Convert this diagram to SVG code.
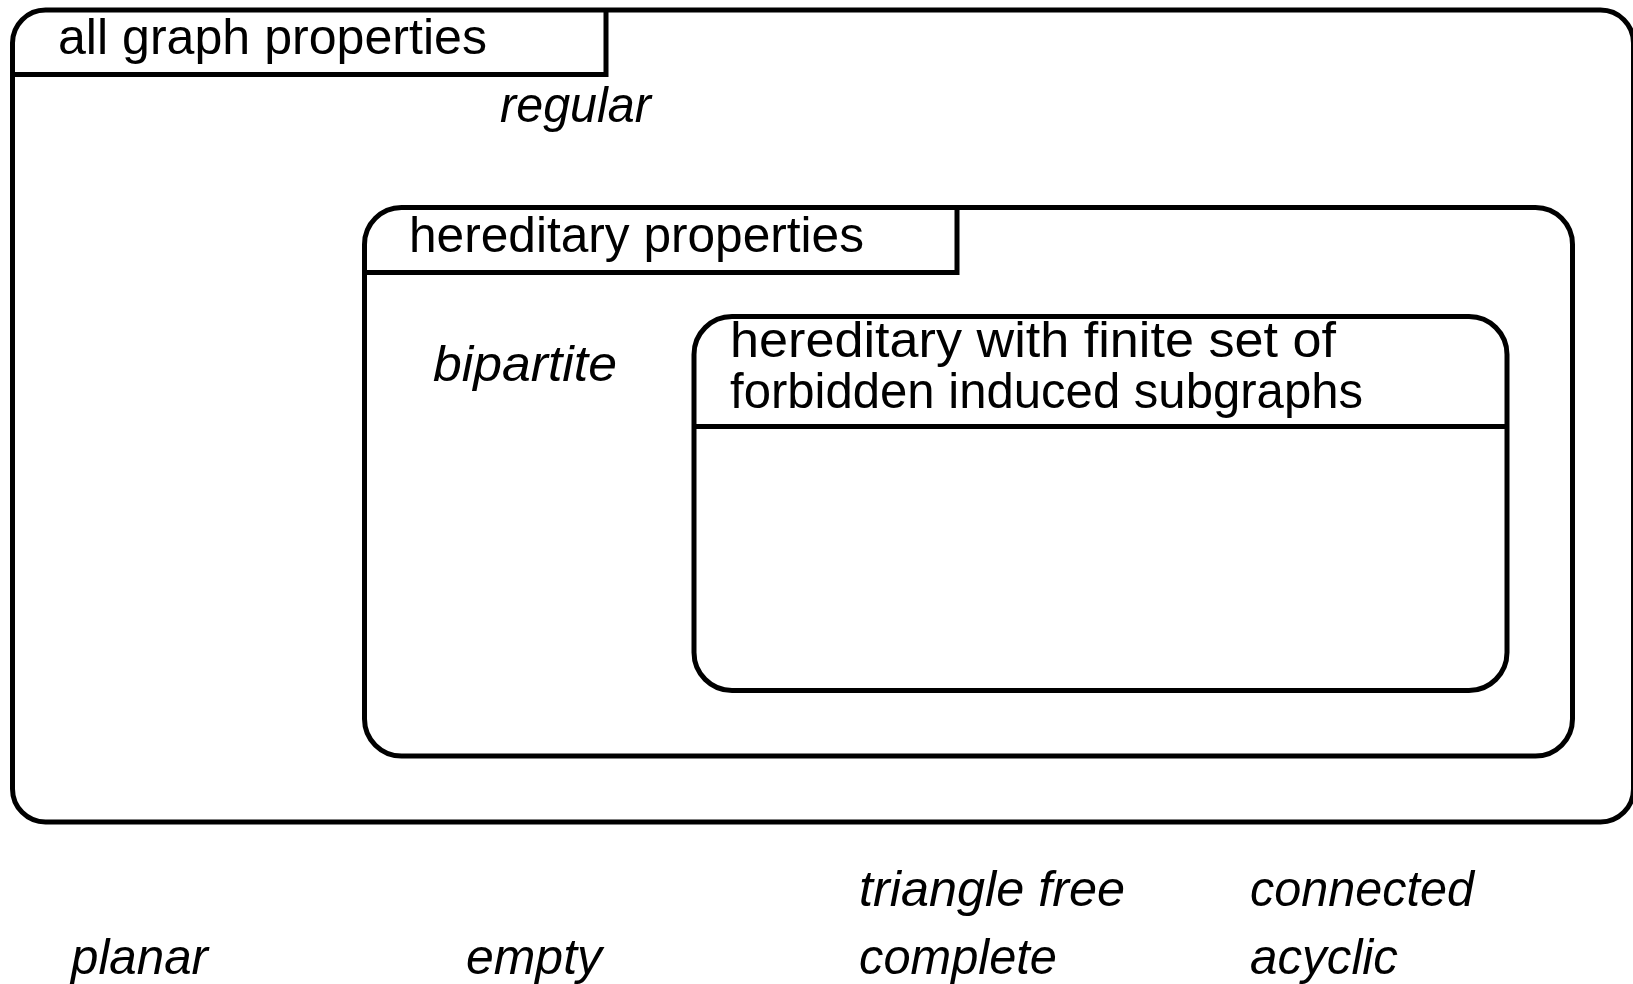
<svg xmlns="http://www.w3.org/2000/svg" width="1633" height="984" viewBox="0 0 1633 984">
  <style>
    .frame { fill: none; stroke: #000; stroke-width: 5; stroke-linejoin: miter; }
    .title { font-family: "Liberation Sans", Arial, sans-serif; font-size: 50px; fill: #000; }
    .prop { font-family: "Liberation Sans", Arial, sans-serif; font-style: italic; font-size: 50px; fill: #000; }
  </style>
  <rect width="1633" height="984" fill="#fff"/>

  <!-- outermost class: all graph properties -->
  <g id="all-graph-properties">
    <rect class="frame" x="12.5" y="10" width="1621" height="812" rx="33" ry="33"/>
    <path class="frame" d="M12.5,74.5 H606 V10"/>
    <text class="title" x="58" y="54" textLength="429" lengthAdjust="spacingAndGlyphs">all graph properties</text>
  </g>

  <!-- hereditary properties -->
  <g id="hereditary-properties">
    <rect class="frame" x="364.5" y="207.5" width="1208" height="548.5" rx="37" ry="37"/>
    <path class="frame" d="M364.5,272.5 H957 V207.5"/>
    <text class="title" x="409" y="252" textLength="455" lengthAdjust="spacingAndGlyphs">hereditary properties</text>
  </g>

  <!-- hereditary with a finite set of forbidden induced subgraphs -->
  <g id="finite-forbidden">
    <rect class="frame" x="694" y="316.5" width="813" height="374" rx="38" ry="38"/>
    <line class="frame" x1="694" y1="426.5" x2="1507" y2="426.5"/>
    <text class="title" x="730" y="357" textLength="606" lengthAdjust="spacingAndGlyphs">hereditary with finite set of</text>
    <text class="title" x="730" y="408" textLength="633" lengthAdjust="spacingAndGlyphs">forbidden induced subgraphs</text>
  </g>

  <!-- example properties -->
  <g id="regular"><text class="prop" x="500" y="122" textLength="151" lengthAdjust="spacingAndGlyphs">regular</text></g>
  <g id="bipartite"><text class="prop" x="433" y="381" textLength="184" lengthAdjust="spacingAndGlyphs">bipartite</text></g>
  <g id="triangle-free"><text class="prop" x="859" y="906" textLength="266" lengthAdjust="spacingAndGlyphs">triangle free</text></g>
  <g id="connected"><text class="prop" x="1250" y="906" textLength="224" lengthAdjust="spacingAndGlyphs">connected</text></g>
  <g id="planar"><text class="prop" x="71" y="974" textLength="137" lengthAdjust="spacingAndGlyphs">planar</text></g>
  <g id="empty"><text class="prop" x="466" y="974" textLength="136" lengthAdjust="spacingAndGlyphs">empty</text></g>
  <g id="complete"><text class="prop" x="859" y="974" textLength="198" lengthAdjust="spacingAndGlyphs">complete</text></g>
  <g id="acyclic"><text class="prop" x="1250" y="974" textLength="148" lengthAdjust="spacingAndGlyphs">acyclic</text></g>
</svg>
